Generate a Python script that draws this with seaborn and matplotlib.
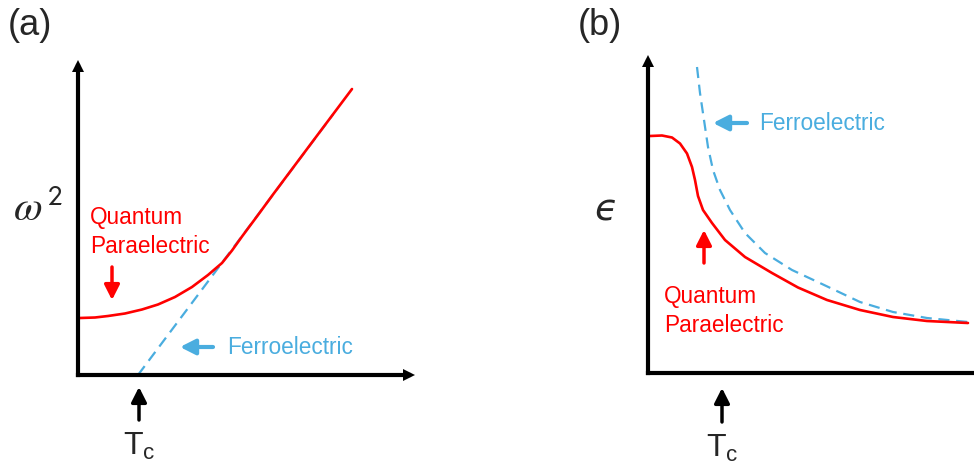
import matplotlib
matplotlib.use("Agg")
import matplotlib.pyplot as plt
import seaborn as sns

# ---------------- data (schematic) ----------------
# panel (a): soft-mode frequency squared vs temperature
qpe_T_a = [0, 2, 17, 30, 47, 64, 80, 97, 114, 130, 144, 154, 164, 180, 195, 235, 274]
qpe_w2_a = [57, 57, 57.5, 59, 61.5, 65.5, 70.5, 78, 88, 100, 112, 124.5, 138.5, 160, 180.5, 234, 286]
fe_T_a = [60, 255]
fe_w2_a = [0, 260.5]

# panel (b): dielectric constant vs temperature
qpe_T_b = [0, 2, 14, 24, 32, 39, 44, 47, 50, 55, 64, 77, 97, 124, 150, 179, 212, 245, 279, 320]
qpe_eps_b = [237, 237, 237.5, 235.5, 229.5, 219.5, 206, 193, 177, 163, 150, 133, 116, 100, 85.5, 73, 63, 56, 52, 50]
fe_T_b = [49, 52, 56, 60, 65, 72, 82, 97, 117, 144, 174, 212, 245, 279, 320]
fe_eps_b = [306, 280, 253, 226, 203, 183, 163, 140, 120, 103, 89, 71, 61, 55, 51]

panel_labels = ["(a)", "(b)"]
omega_label = r"$\omega^{\,\mathsf{2}}$"
eps_label = "\u03f5"
qpe_label = "Quantum\nParaelectric"
fe_label = "Ferroelectric"
tc_label = r"$\mathregular{T_c}$"

RED = "#FF0000"
BLUE = "#4AADDF"

sns.set_theme(style="white")
plt.rcParams["font.family"] = ["Liberation Sans", "DejaVu Sans"]
plt.rcParams["mathtext.fontset"] = "stix"

W, H = 974, 466
fig = plt.figure(figsize=(W / 100, H / 100), dpi=100)
fig.patch.set_facecolor("white")


def add_ax(x0, y0, x1, y1):
    # pixel box -> figure fraction (y pixels measured from top)
    return fig.add_axes([x0 / W, 1 - y0 / H, (x1 - x0) / W, (y0 - y1) / H])


def style_axes(ax, xmax, ymax):
    ax.set_xlim(0, xmax)
    ax.set_ylim(0, ymax)
    ax.set_xticks([])
    ax.set_yticks([])
    ax.set_facecolor("none")
    for s in ["top", "right"]:
        ax.spines[s].set_visible(False)
    for s in ["left", "bottom"]:
        ax.spines[s].set_color("black")
        ax.spines[s].set_linewidth(3)
        ax.spines[s].set_capstyle("projecting")
    ax.plot([0], [1], marker="^", ms=9, color="black", transform=ax.transAxes,
            clip_on=False, mew=0)
    ax.plot([1], [0], marker=">", ms=9, color="black", transform=ax.transAxes,
            clip_on=False, mew=0)
    ax.set_xlabel("")
    ax.set_ylabel("")


def arrow(ax, start, end, color, lw=2.5):
    ax.annotate("", xy=end, xytext=start, xycoords="data",
                arrowprops=dict(arrowstyle="-|>,head_length=0.75,head_width=0.38",
                                lw=lw, color=color, shrinkA=0, shrinkB=0,
                                mutation_scale=12),
                annotation_clip=False)


TXT = 16.3

# ---------------- panel (a) ----------------
axa = add_ax(78, 375, 409, 66)
sns.lineplot(x=fe_T_a, y=fe_w2_a, ax=axa, color=BLUE, lw=1.6,
             linestyle=(0, (5, 3)))
sns.lineplot(x=qpe_T_a, y=qpe_w2_a, ax=axa, color=RED, lw=1.9)
style_axes(axa, 331, 309)
arrow(axa, (34, 108), (34, 75), RED)
arrow(axa, (135, 28), (102, 28), BLUE, lw=3)
axa.text(149, 28, fe_label, color=BLUE, fontsize=TXT, va="center", ha="left")
axa.text(12, 143, qpe_label, color=RED, fontsize=TXT, va="center", ha="left",
         linespacing=1.3)
arrow(axa, (61, -45), (61, -12), "black")
axa.text(61, -56, tc_label, fontsize=23, ha="center", va="top", clip_on=False)

# ---------------- panel (b) ----------------
axb = add_ax(648, 373, 984, 61)
sns.lineplot(x=fe_T_b, y=fe_eps_b, ax=axb, color=BLUE, lw=1.6,
             linestyle=(0, (5, 3)))
sns.lineplot(x=qpe_T_b, y=qpe_eps_b, ax=axb, color=RED, lw=1.9)
style_axes(axb, 336, 312)
arrow(axb, (99, 250), (65, 250), BLUE, lw=3)
axb.text(111, 250, fe_label, color=BLUE, fontsize=TXT, va="center", ha="left")
arrow(axb, (56, 110), (56, 143), RED)
axb.text(16, 62, qpe_label, color=RED, fontsize=TXT, va="center", ha="left",
         linespacing=1.3)
arrow(axb, (74, -49), (74, -15), "black")
axb.text(74, -60, tc_label, fontsize=23, ha="center", va="top", clip_on=False)

# ---------------- labels ----------------
fig.text(8 / W, 1 - 8 / H, panel_labels[0], fontsize=26, va="top", ha="left")
fig.text(578 / W, 1 - 8 / H, panel_labels[1], fontsize=26, va="top", ha="left")
fig.text(38 / W, 1 - 210 / H, omega_label, fontsize=30, va="center", ha="center")
fig.text(606 / W, 1 - 211 / H, eps_label, fontsize=27, va="center", ha="center",
         family=["DejaVu Sans"], style="italic")

fig.savefig("out.png", dpi=100, facecolor="white")
